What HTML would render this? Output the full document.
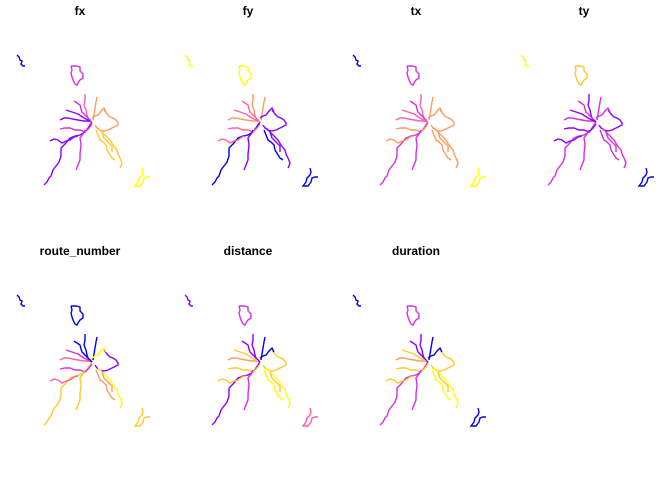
<!DOCTYPE html>
<html><head><meta charset="utf-8"><style>
body{margin:0;background:#fff;}
svg{display:block;}
text{font-family:"Liberation Sans",sans-serif;font-weight:bold;font-size:12px;}
</style></head><body>
<svg id="c" width="672" height="480"></svg>
<script>
const panelTitles=["fx","fy","tx","ty","route_number","distance","duration"];
const routes=[
 [[17,55],[19,57],[20,60],[22,61],[21,64],[23,66],[25,66]],
 [[71,66],[76,66],[80,67],[80,71],[83,74],[83,78],[80,80],[78,83],[77,85],[75,84],[73,80],[72,77],[71,73],[72,70],[71,66]],
 [[142,168],[143,172],[142,175],[139,178],[138,182],[135,186],[140,186],[143,182],[144,178],[147,177],[150,177]],
 [[44,185],[47,182],[49,178],[51,176],[53,170],[56,166],[59,162],[61,156],[61,148],[65,144],[70,138],[75,136],[80,135],[85,132],[88,128],[92,122]],
 [[50,141],[54,139],[58,140],[62,143],[66,141],[70,140],[74,137],[78,136]],
 [[60,120],[64,118],[68,118],[72,119],[78,120],[84,121],[88,121],[92,122]],
 [[60,129],[65,128],[70,128],[75,130],[80,130],[85,132],[89,128],[92,124]],
 [[85,94],[85,100],[84,105],[86,110],[87,115],[88,118],[92,122]],
 [[97,97],[96,102],[95,108],[94,114],[93,120]],
 [[74,101],[77,103],[80,105],[81,109],[82,112],[86,116],[90,120]],
 [[76,170],[78,165],[80,160],[80,154],[81,145],[80,138],[83,134],[85,130]],
 [[104,110],[107,114],[110,117],[113,118],[116,120],[118,123],[118,125],[114,127],[108,130],[104,131],[100,130],[97,128],[95,125]],
 [[96,130],[98,135],[100,140],[103,142],[106,145],[107,150],[110,155],[112,158],[115,160]],
 [[98,128],[104,134],[110,140],[113,145],[117,150],[118,154],[120,158],[122,163],[121,166],[120,168]],
 [[92,118],[95,116],[98,115],[101,111],[104,108],[106,112]],
 [[66,110],[72,112],[78,114],[84,118],[90,121]],
 [[102,132],[104,138],[108,142],[112,146],[112,152]]
];
const colorFx=[0,0.35,1,0.1,0.2,0.2,0.25,0.55,0.6,0.35,0.4,0.65,0.8,0.9,0.65,0.2,0.75];
const colorFy=[1,0.95,0,0.05,0.5,0.6,0.5,0.6,0.6,0.55,0.1,0.1,0.05,0.1,0.15,0.55,0.1];
const colorTx=[0,0.4,1,0.3,0.6,0.55,0.6,0.55,0.6,0.4,0.4,0.6,0.6,0.65,0.6,0.55,0.65];
const colorTy=[1,0.8,0,0.3,0.2,0.3,0.2,0.2,0.25,0.3,0.3,0.2,0.3,0.3,0.25,0.2,0.3];
const colorRoute=[0,0,0.9,0.75,0.55,0.5,0.4,0.05,0.05,0.05,0.75,0.2,0.7,1,0.95,0.4,0.7];
const colorDistance=[0.2,0.4,0.55,0.2,0.75,0.7,0.8,0.1,0.05,0.1,0.3,0.9,0.95,1,0.05,0.8,0.9];
const colorDuration=[0.05,0.35,0.05,0.3,0.75,0.7,0.8,0.1,0.05,0.1,0.3,0.9,0.95,1,0.05,0.8,0.9];
const panelColors=[colorFx,colorFy,colorTx,colorTy,colorRoute,colorDistance,colorDuration];
const pal=["#0000EE","#8A00FF","#D22FE6","#FF5FA8","#FF9A5E","#FFC62E","#FFFF00"];
function col(v){return pal[Math.round(v*(pal.length-1))];}
const svg=document.getElementById('c');
const NS="http://www.w3.org/2000/svg";
panelTitles.forEach((t,p)=>{
  const ox=(p%4)*168, oy=Math.floor(p/4)*240;
  const g=document.createElementNS(NS,'g');
  
  
  const tx=document.createElementNS(NS,'text');
  tx.setAttribute('x',ox+80);tx.setAttribute('y',oy+15);tx.setAttribute('text-anchor','middle');
  tx.textContent=t;
  
  
  g.appendChild(tx);
  routes.forEach((r,i)=>{
    const pl=document.createElementNS(NS,'polyline');
    pl.setAttribute('points',r.map(q=>(q[0]+ox)+','+(q[1]+oy)).join(' '));
    pl.setAttribute('fill','none');pl.setAttribute('stroke',col(panelColors[p][i]));
    pl.setAttribute('stroke-width','1.4');
    
    
    g.appendChild(pl);
  });
  svg.appendChild(g);
});
</script>
</body></html>
